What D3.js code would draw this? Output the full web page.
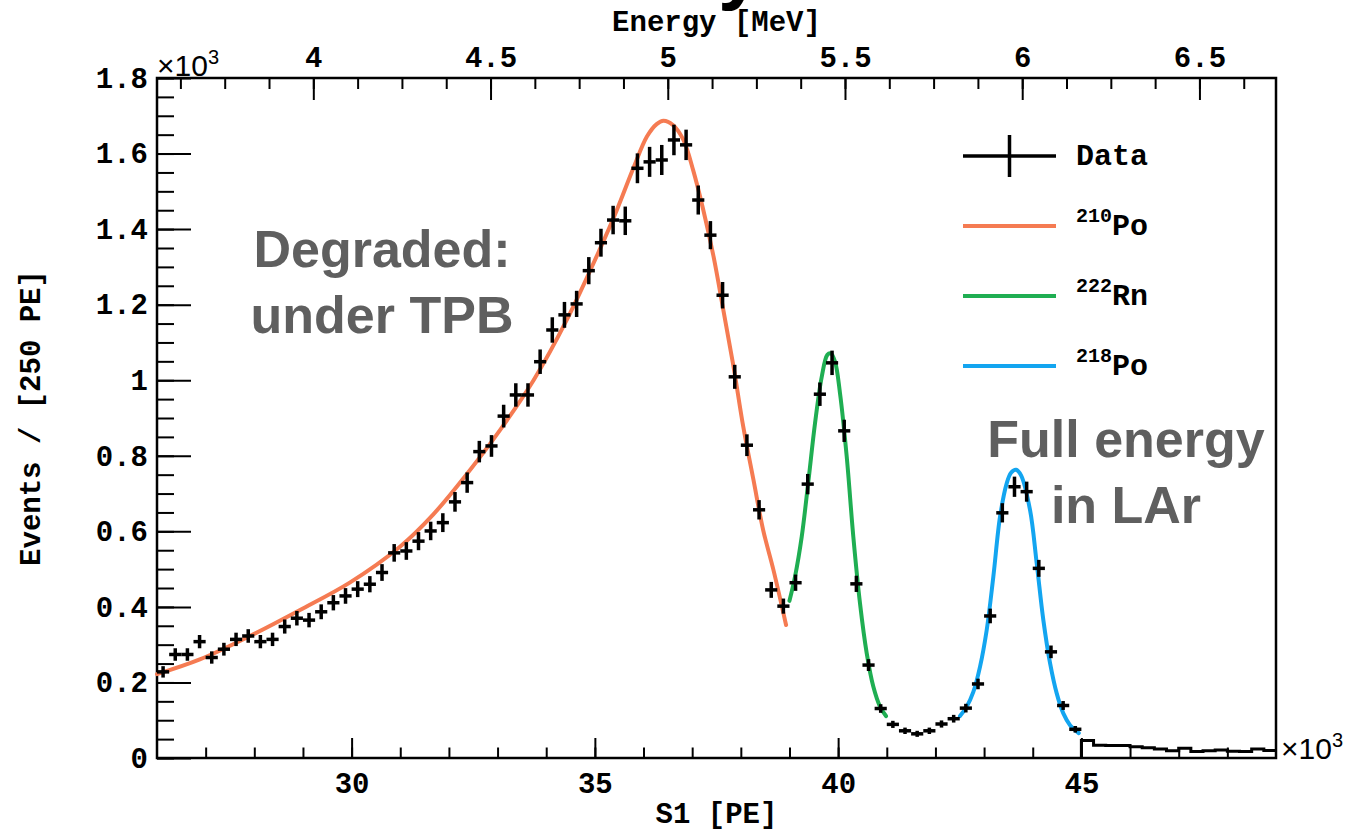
<!DOCTYPE html>
<html>
<head>
<meta charset="utf-8">
<script src="https://cdn.jsdelivr.net/npm/d3@7"></script>
<style>
  html, body { margin: 0; padding: 0; background: #fff; }
  svg { display: block; }
</style>
</head>
<body>
<svg id="chart" width="1347" height="834"></svg>
<script>
// binned S1 spectrum, 250 PE bins starting at 26000 PE
const binStart = 26000;
const binWidth = 250;
// bins drawn as points with error bars (26000 - 45000 PE)
const dataCounts = [
  228, 274, 274, 308, 266, 288, 314, 323, 308, 314,
  348, 370, 365, 387, 411, 429, 447, 460, 491, 543,
  548, 574, 601, 623, 678, 729, 811, 826, 905, 961,
  961, 1049, 1133, 1173, 1202, 1290, 1364, 1424, 1422, 1561,
  1578, 1583, 1636, 1623, 1477, 1384, 1225, 1009, 828, 657,
  445, 402, 464, 725, 963, 1046, 866, 461, 246, 131,
  89, 72, 64, 72, 90, 104, 132, 196, 376, 649,
  718, 705, 502, 281, 139, 76
];
// bins drawn as a plain histogram line (45000 - 49000 PE)
const tailCounts = [46, 34, 33, 33, 30, 27, 24, 19, 26, 17, 19, 21, 18, 17, 24, 20];

// fit curves
const po210S1 = [26000, 26880, 27910, 28940, 29970, 31000, 31680, 32370, 33050,
  33740, 34420, 35110, 35450, 35790, 36070, 36270, 36410, 36610, 36820,
  37020, 37230, 37440, 37640, 37850, 38050, 38260, 38460, 38670, 38930];
const po210Val = [222, 261, 323, 392, 465, 560, 645, 752, 868,
  1000, 1159, 1349, 1450, 1561, 1645, 1678, 1687, 1675, 1636,
  1556, 1450, 1327, 1186, 1036, 877, 736, 603, 498, 352];

const rn222S1 = [39000, 39114, 39252, 39387, 39525, 39663, 39778, 39848, 39936, 40039,
  40177, 40312, 40450, 40588, 40723, 40861, 40984];
const rn222Val = [416, 480, 586, 731, 886, 1009, 1067, 1071, 1049, 965,
  797, 586, 409, 277, 189, 136, 111];

const po218S1 = [42505, 42643, 42779, 42917, 43054, 43190, 43328, 43465, 43554, 43657,
  43760, 43945, 44082, 44218, 44356, 44493, 44629, 44767, 44946];
const po218Val = [111, 136, 175, 242, 339, 480, 639, 727, 755, 763,
  748, 656, 515, 365, 251, 171, 118, 87, 66];

const s1Ticks = [30000, 35000, 40000, 45000];
const eventTicks = [0, 200, 400, 600, 800, 1000, 1200, 1400, 1600, 1800];
const energyTicks = [4, 4.5, 5, 5.5, 6, 6.5];

const legendNames = [['', 'Data'], ['210', 'Po'], ['222', 'Rn'], ['218', 'Po']];
const fitColors = ['#f57b52', '#1fae52', '#13a5f0'];

const svg = d3.select('#chart');
const frame = { left: 157, right: 1276, top: 78, bottom: 758 };
const mono = "'Liberation Mono', 'DejaVu Sans Mono', monospace";
const sans = "'Liberation Sans', Arial, Helvetica, sans-serif";

const x = d3.scaleLinear().domain([26000, 49000]).range([frame.left, frame.right]);
const y = d3.scaleLinear().domain([0, 1800]).range([frame.bottom, frame.top]);
const e = d3.scaleLinear().domain([3.559, 6.716]).range([frame.left, frame.right]);

function styleAxis(g) {
  g.select('.domain').remove();
  g.selectAll('.tick line').attr('stroke', '#000').attr('stroke-width', 2);
  g.selectAll('.tick text')
    .attr('font-family', mono)
    .attr('font-weight', 'bold')
    .attr('font-size', 29)
    .attr('fill', '#000');
}

// minor ticks first, then the labelled ones
svg.append('g')
  .attr('transform', `translate(${frame.left},0)`)
  .call(d3.axisLeft(y).tickValues(d3.range(0, 1801, 50)).tickSize(-17).tickFormat(''))
  .call(styleAxis);
svg.append('g')
  .attr('transform', `translate(${frame.left},0)`)
  .call(d3.axisLeft(y).tickValues(eventTicks).tickSize(-34).tickPadding(9)
    .tickFormat(d => d3.format('~g')(d / 1000)))
  .call(styleAxis);

svg.append('g')
  .attr('transform', `translate(0,${frame.bottom})`)
  .call(d3.axisBottom(x).tickValues(d3.range(27000, 49000, 1000)).tickSize(-10.5).tickFormat(''))
  .call(styleAxis);
svg.append('g')
  .attr('transform', `translate(0,${frame.bottom})`)
  .call(d3.axisBottom(x).tickValues(s1Ticks).tickSize(-20).tickPadding(14)
    .tickFormat(d => d / 1000))
  .call(styleAxis);

svg.append('g')
  .attr('transform', `translate(0,${frame.top})`)
  .call(d3.axisTop(e).tickValues(d3.range(3.625, 6.7, 0.125)).tickSize(-11).tickFormat(''))
  .call(styleAxis);
svg.append('g')
  .attr('transform', `translate(0,${frame.top})`)
  .call(d3.axisTop(e).tickValues(energyTicks).tickSize(-22).tickPadding(11)
    .tickFormat(d3.format('~g')))
  .call(styleAxis);

// frame
svg.append('rect')
  .attr('x', frame.left).attr('y', frame.top)
  .attr('width', frame.right - frame.left).attr('height', frame.bottom - frame.top)
  .attr('fill', 'none').attr('stroke', '#000').attr('stroke-width', 2.5);

// axis titles
svg.append('text')
  .attr('x', (frame.left + frame.right) / 2).attr('y', 823)
  .attr('text-anchor', 'middle')
  .attr('font-family', mono).attr('font-weight', 'bold').attr('font-size', 29)
  .text('S1 [PE]');
svg.append('text')
  .attr('x', (frame.left + frame.right) / 2).attr('y', 31)
  .attr('text-anchor', 'middle')
  .attr('font-family', mono).attr('font-weight', 'bold').attr('font-size', 29)
  .text('Energy [MeV]');
svg.append('text')
  .attr('transform', `translate(40,${(frame.top + frame.bottom) / 2}) rotate(-90)`)
  .attr('text-anchor', 'middle')
  .attr('font-family', mono).attr('font-weight', 'bold').attr('font-size', 29)
  .text('Events / [250 PE]');

// x10^3 exponents
function exponent(px, py) {
  const t = svg.append('text')
    .attr('x', px).attr('y', py)
    .attr('font-family', sans).attr('font-size', 30).attr('fill', '#000');
  t.append('tspan').text('\u00d710');
  t.append('tspan').attr('dy', -12).attr('font-size', 20).text('3');
}
exponent(frame.left, 76);
exponent(1281, 759);

// cut-off descender of the slide title above the plot
svg.append('text')
  .attr('x', 718).attr('y', -6)
  .attr('font-family', sans).attr('font-weight', 'bold').attr('font-size', 80)
  .text('y');

// fit curves
const line = d3.line().curve(d3.curveCatmullRom.alpha(0.5))
  .x(d => x(d[0])).y(d => y(d[1]));
const fits = [
  d3.zip(po210S1, po210Val),
  d3.zip(rn222S1, rn222Val),
  d3.zip(po218S1, po218Val)
];
fits.forEach((pts, k) => {
  svg.append('path')
    .attr('d', line(pts))
    .attr('fill', 'none')
    .attr('stroke', fitColors[k])
    .attr('stroke-width', 4)
    .attr('stroke-linecap', 'round');
});

// data points: bin-wide horizontal bar, sqrt(N) vertical bar
const pts = svg.append('g').attr('stroke', '#000').attr('stroke-width', 3.5);
dataCounts.forEach((n, i) => {
  const lo = binStart + i * binWidth;
  const mid = lo + binWidth / 2;
  const err = Math.sqrt(n);
  pts.append('line')
    .attr('x1', x(lo)).attr('x2', x(lo + binWidth))
    .attr('y1', y(n)).attr('y2', y(n));
  pts.append('line')
    .attr('x1', x(mid)).attr('x2', x(mid))
    .attr('y1', y(n - err)).attr('y2', y(n + err));
});

// tail histogram as a step line
const tailStart = binStart + dataCounts.length * binWidth;
const steps = [[tailStart, 0]];
tailCounts.forEach((n, i) => {
  steps.push([tailStart + i * binWidth, n]);
  steps.push([tailStart + (i + 1) * binWidth, n]);
});
svg.append('path')
  .attr('d', d3.line().x(d => x(d[0])).y(d => y(d[1]))(steps))
  .attr('fill', 'none').attr('stroke', '#000').attr('stroke-width', 3);

// legend
const legend = svg.append('g');
legendNames.forEach((nm, k) => {
  const ly = 156 + k * 70;
  legend.append('line')
    .attr('x1', 963).attr('x2', 1056).attr('y1', ly).attr('y2', ly)
    .attr('stroke', k === 0 ? '#000' : fitColors[k - 1])
    .attr('stroke-width', k === 0 ? 3.5 : 4);
  if (k === 0) {
    legend.append('line')
      .attr('x1', 1009.5).attr('x2', 1009.5).attr('y1', ly - 21).attr('y2', ly + 21)
      .attr('stroke', '#000').attr('stroke-width', 3.5);
  }
  const t = legend.append('text')
    .attr('x', 1076).attr('y', ly + 9)
    .attr('font-family', mono).attr('font-weight', 'bold').attr('font-size', 30);
  if (nm[0]) {
    t.append('tspan').attr('font-size', 20).attr('dy', -13).text(nm[0]);
    t.append('tspan').attr('dy', 13).text(nm[1]);
  } else {
    t.text(nm[1]);
  }
});

// annotations
function note(lines, cx, y0) {
  lines.forEach((s, j) => {
    svg.append('text')
      .attr('x', cx).attr('y', y0 + j * 66)
      .attr('text-anchor', 'middle')
      .attr('font-family', sans).attr('font-weight', 'bold').attr('font-size', 52)
      .attr('fill', '#5f5f5f')
      .text(s);
  });
}
note(['Degraded:', 'under TPB'], 382, 267);
note(['Full energy', 'in LAr'], 1126, 457);
</script>
</body>
</html>
